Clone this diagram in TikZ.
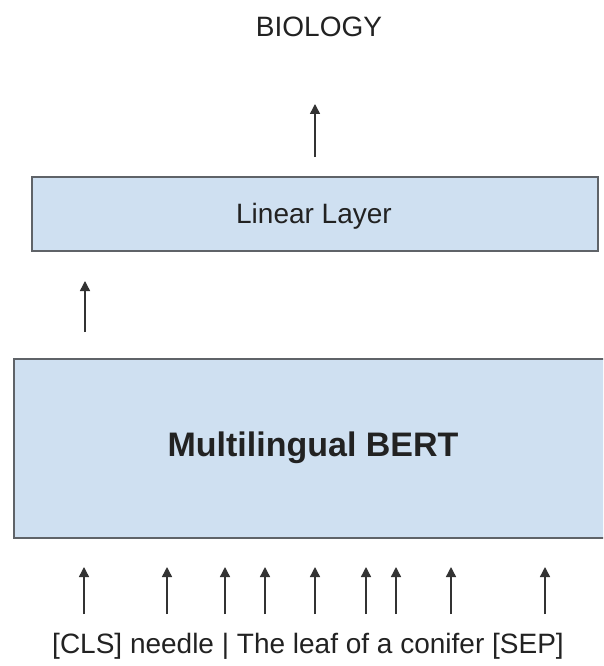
\documentclass[tikz,border=0pt]{standalone}
\usepackage{fontspec}
\setmainfont{Liberation Sans}
\usetikzlibrary{arrows.meta}
\definecolor{boxfill}{HTML}{CFE0F1}
\definecolor{boxline}{HTML}{5F6368}
\definecolor{txt}{HTML}{222222}
\tikzset{
  layerbox/.style={draw=boxline, line width=2pt, fill=boxfill, inner sep=0pt},
  uparrow/.style={draw=black!80, line width=1.4pt, -{Triangle[length=10pt,width=10pt]}},
  lbl/.style={text=txt, inner sep=0pt, font=\fontsize{28}{32}\selectfont}
}
\begin{document}
\begin{tikzpicture}[x=1pt,y=-1pt]
\clip (0,0) rectangle (603,666);
\fill[white] (0,0) rectangle (603,666);
% output label
\node[lbl] (bio) at (319,27) {BIOLOGY};
\coordinate (t0a) at (315,157);
\coordinate (t0b) at (315,104);
\draw[uparrow] (t0a) -- (t0b);
% linear layer
\draw[layerbox] (32,177) rectangle (598,251);
\node[lbl] (lin) at (314,216) {Linear Layer};
\coordinate (t1a) at (85,332);
\coordinate (t1b) at (85,281);
\draw[uparrow] (t1a) -- (t1b);
% BERT
\draw[layerbox] (14,359) rectangle (610,538);
\node[lbl, font=\fontsize{34}{39}\selectfont\bfseries] (bert) at (313,448) {Multilingual BERT};
% token arrows
\foreach \i/\x in {1/84,2/167,3/225,4/265,5/315,6/366,7/396,8/451,9/545}{
  \coordinate (a\i) at (\x,614);
  \coordinate (b\i) at (\x,567);
  \draw[uparrow] (a\i) -- (b\i);
}
\node[lbl] (inp) at (308,646) {[CLS] needle | The leaf of a conifer [SEP]};
\end{tikzpicture}
\end{document}
